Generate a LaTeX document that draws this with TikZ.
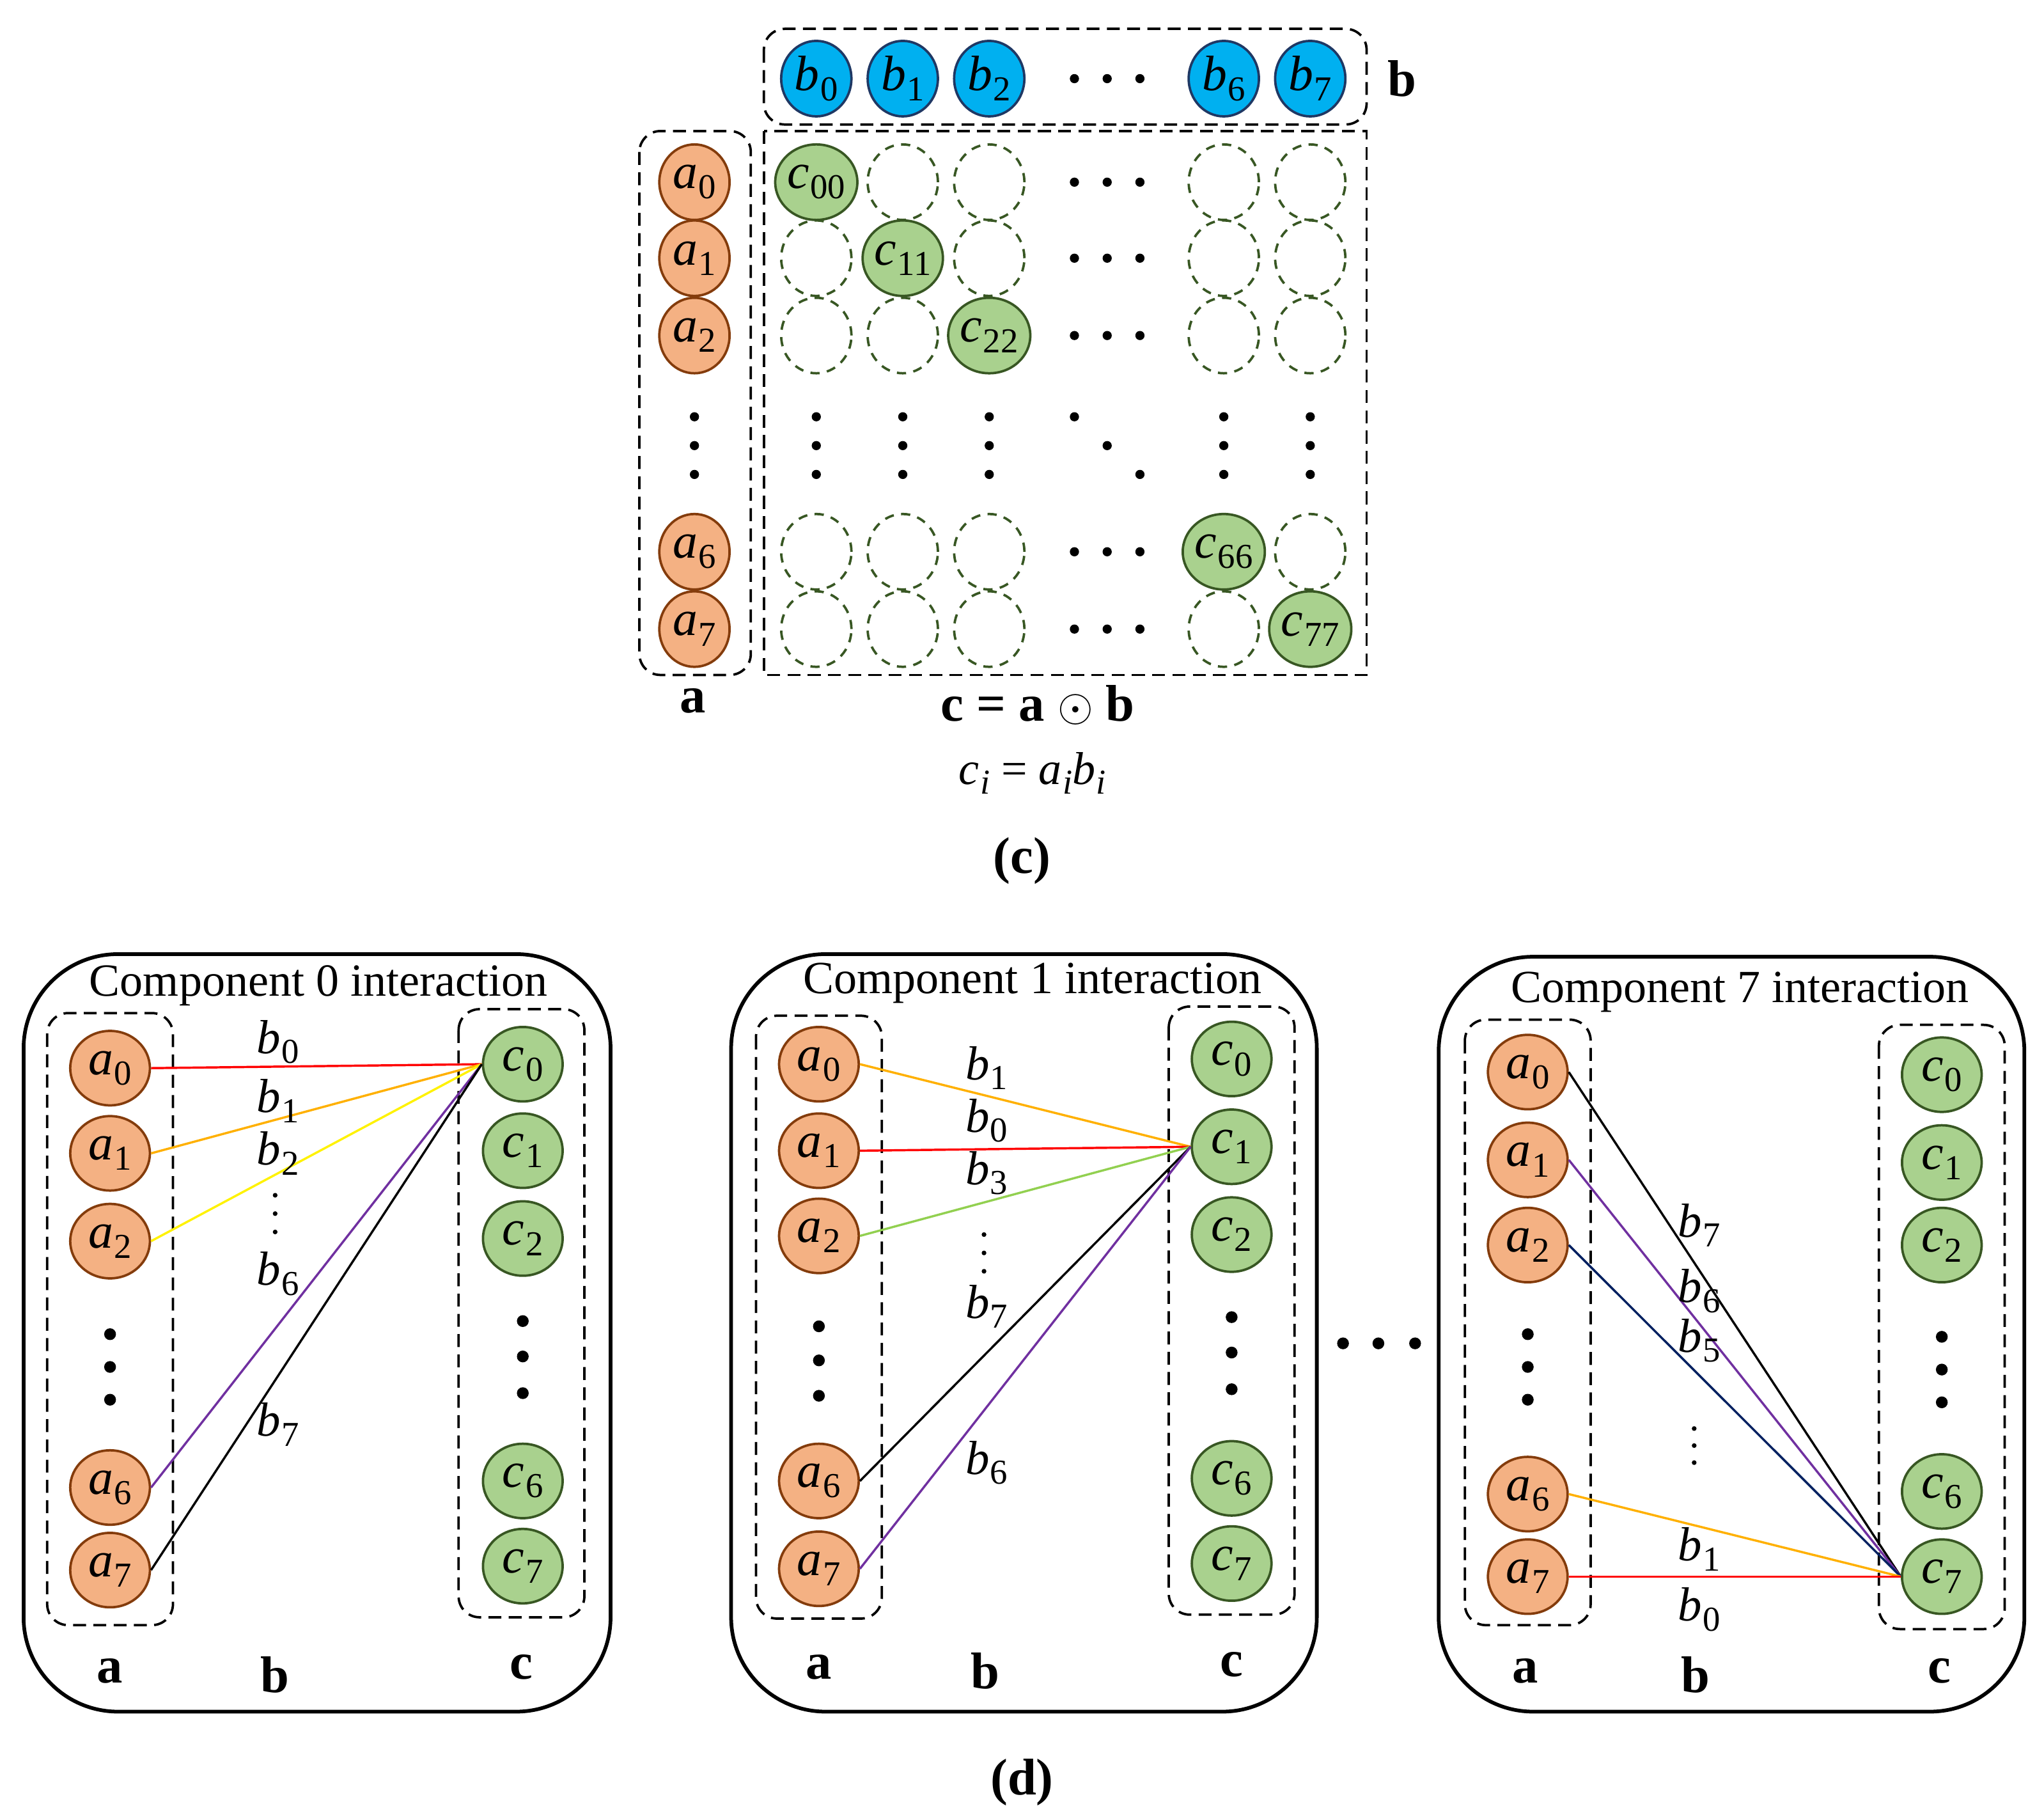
\documentclass[tikz,border=0pt]{standalone}
\usepackage{fontspec}
\setmainfont{Liberation Serif}
\usetikzlibrary{shapes.geometric}
\newcommand\vs[2]{\textit{#1}\kern0.02em\raisebox{-0.45ex}{\fontsize{19}{19}\selectfont #2}}
\definecolor{afill}{HTML}{F4B183}\definecolor{adraw}{HTML}{843C0C}
\definecolor{cfill}{HTML}{A9D18E}\definecolor{cdraw}{HTML}{385723}
\definecolor{bfill}{HTML}{00B0F0}\definecolor{bdraw}{HTML}{1F3864}
\definecolor{lorange}{HTML}{FFB000}\definecolor{lpurple}{HTML}{7030A0}
\definecolor{lnavy}{HTML}{002060}\definecolor{lgreen}{HTML}{92D050}
\begin{document}
\begin{tikzpicture}[x=0.25mm,y=-0.25mm,
  nd/.style={ellipse,inner sep=0pt,line width=1.3pt,font=\fontsize{27}{27}\selectfont},
  top/.style={minimum width=13.4mm,minimum height=14.4mm},
  bot/.style={minimum width=15.2mm,minimum height=14.2mm},
  A/.style={nd,draw=adraw,fill=afill},
  C/.style={nd,draw=cdraw,fill=cfill},
  E/.style={nd,draw=cdraw,dashed,dash pattern=on 5pt off 4pt},
  B/.style={nd,draw=bdraw,fill=bfill},
  box/.style={draw,line width=1.3pt,dash pattern=on 7pt off 4pt},
  panel/.style={draw,line width=2pt,rounded corners=18mm},
  lab/.style={font=\fontsize{28}{28}\selectfont\bfseries},
  el/.style={font=\fontsize{26}{26}\selectfont,inner sep=0pt},
  ttl/.style={font=\fontsize{25}{25}\selectfont},
  dot/.style={fill=black},
  ln/.style={line width=1.2pt}]
\useasboundingbox (0,0) rectangle (1560,1383);
% ---------- (c) ----------
\draw[box,rounded corners=4mm] (583,22) rectangle (1043,95);
\draw[box,rounded corners=4mm] (488,100) rectangle (573,515);
\draw[box] (583,100) rectangle (1043,515);
\foreach \n/\x in {0/623,1/689,2/755,6/934,7/1000}
  \node[B,top] (b\n) at (\x,60) {\vs{b}{\n}};
\foreach \x in {820,845,870} \fill[dot] (\x,60) circle (3.5);
\node[lab] (lb) at (1070,60) {b};
\foreach \n/\y in {0/139,1/197,2/256,6/421,7/480}
  \node[A,top] (ta\n) at (530,\y) {\vs{a}{\n}};
\foreach \y in {318,340,362} \fill[dot] (530,\y) circle (3.5);
\foreach \i/\y in {0/139,1/197,2/256,6/421,7/480}{
  \foreach \j/\x in {0/623,1/689,2/755,6/934,7/1000}{
    \ifnum\i=\j
      \node[C,top] (c\i\j) at (\x,\y) {\vs{c}{\i\j}};
    \else
      \node[E,top] (c\i\j) at (\x,\y) {};
    \fi}
  \foreach \x in {820,845,870} \fill[dot] (\x,\y) circle (3.5);}
\foreach \x in {623,689,755,934,1000}
  \foreach \y in {318,340,362} \fill[dot] (\x,\y) circle (3.5);
\fill[dot] (820,318) circle (3.5) (845,340) circle (3.5) (870,362) circle (3.5);
\node[lab] (la) at (529,535) {a};
\node[lab] (lc) at (792,538) {c = a $\odot$ b};
\node[ttl] (ci) at (788,590) {\vs{c}{\textit{i}} = \vs{a}{\textit{i}}\vs{b}{\textit{i}}};
\node[lab] (capc) at (780,657) {(c)};
% ---------- panel 0 ----------
\draw[panel] (18,728) rectangle (466,1306);
\node[ttl] (t0) at (243,752) {Component 0 interaction};
\draw[box,rounded corners=4mm] (36,773) rectangle (132,1240);
\draw[box,rounded corners=4mm] (350,770) rectangle (446,1234);
\foreach \n/\y in {0/815,1/880,2/947,6/1135,7/1198} \node[A,bot] (p0a\n) at (84,\y) {\vs{a}{\n}};
\foreach \n/\y in {0/812,1/878,2/945,6/1130,7/1195} \node[C,bot] (p0c\n) at (399,\y) {\vs{c}{\n}};
\foreach \y in {1018,1043,1068} \fill[dot] (84,\y) circle (4.5);
\foreach \y in {1008,1035,1063} \fill[dot] (399,\y) circle (4.5);
\draw[ln,red] (p0a0.east) -- (p0c0.west);
\draw[ln,lorange] (p0a1.east) -- (p0c0.west);
\draw[ln,yellow] (p0a2.east) -- (p0c0.west);
\draw[ln,lpurple] (p0a6.east) -- (p0c0.west);
\draw[ln,black] (p0a7.east) -- (p0c0.west);
\node[el] (e00) at (212,795) {\vs{b}{0}};
\node[el] (e01) at (212,840) {\vs{b}{1}};
\node[el] (e02) at (212,880) {\vs{b}{2}};
\foreach \y in {912,926,940} \fill[dot] (210,\y) circle (1.8);
\node[el] (e06) at (212,972) {\vs{b}{6}};
\node[el] (e07) at (212,1087) {\vs{b}{7}};
\node[lab] (p0la) at (84,1275) {a};
\node[lab] (p0lb) at (210,1278) {b};
\node[lab] (p0lc) at (398,1272) {c};
% ---------- panel 1 ----------
\draw[panel] (558,728) rectangle (1005,1306);
\node[ttl] (t1) at (788,750) {Component 1 interaction};
\draw[box,rounded corners=4mm] (577,775) rectangle (673,1235);
\draw[box,rounded corners=4mm] (892,768) rectangle (988,1232);
\foreach \n/\y in {0/812,1/878,2/943,6/1130,7/1197} \node[A,bot] (p1a\n) at (625,\y) {\vs{a}{\n}};
\foreach \n/\y in {0/808,1/875,2/942,6/1128,7/1193} \node[C,bot] (p1c\n) at (940,\y) {\vs{c}{\n}};
\foreach \y in {1012,1038,1065} \fill[dot] (625,\y) circle (4.5);
\foreach \y in {1005,1032,1060} \fill[dot] (940,\y) circle (4.5);
\draw[ln,lorange] (p1a0.east) -- (p1c1.west);
\draw[ln,red] (p1a1.east) -- (p1c1.west);
\draw[ln,lgreen] (p1a2.east) -- (p1c1.west);
\draw[ln,black] (p1a6.east) -- (p1c1.west);
\draw[ln,lpurple] (p1a7.east) -- (p1c1.west);
\node[el] (e11) at (753,815) {\vs{b}{1}};
\node[el] (e10) at (753,855) {\vs{b}{0}};
\node[el] (e13) at (753,895) {\vs{b}{3}};
\foreach \y in {942,956,970} \fill[dot] (751,\y) circle (1.8);
\node[el] (e17) at (753,997) {\vs{b}{7}};
\node[el] (e16) at (753,1116) {\vs{b}{6}};
\node[lab] (p1la) at (625,1272) {a};
\node[lab] (p1lb) at (752,1275) {b};
\node[lab] (p1lc) at (940,1270) {c};
% between
\foreach \x in {1025,1052,1080} \fill[dot] (\x,1025) circle (4.5);
% ---------- panel 7 ----------
\draw[panel] (1098,730) rectangle (1545,1306);
\node[ttl] (t7) at (1328,757) {Component 7 interaction};
\draw[box,rounded corners=4mm] (1118,778) rectangle (1214,1240);
\draw[box,rounded corners=4mm] (1434,782) rectangle (1530,1243);
\foreach \n/\y in {0/818,1/885,2/950,6/1140,7/1203} \node[A,bot] (p7a\n) at (1166,\y) {\vs{a}{\n}};
\foreach \n/\y in {0/820,1/887,2/950,6/1138,7/1203} \node[C,bot] (p7c\n) at (1482,\y) {\vs{c}{\n}};
\foreach \y in {1018,1043,1068} \fill[dot] (1166,\y) circle (4.5);
\foreach \y in {1020,1045,1070} \fill[dot] (1482,\y) circle (4.5);
\draw[ln,black] (p7a0.east) -- (p7c7.west);
\draw[ln,lpurple] (p7a1.east) -- (p7c7.west);
\draw[ln,lnavy] (p7a2.east) -- (p7c7.west);
\draw[ln,lorange] (p7a6.east) -- (p7c7.west);
\draw[ln,red] (p7a7.east) -- (p7c7.west);
\node[el] (e77) at (1297,935) {\vs{b}{7}};
\node[el] (e76) at (1297,985) {\vs{b}{6}};
\node[el] (e75) at (1297,1023) {\vs{b}{5}};
\foreach \y in {1090,1103,1116} \fill[dot] (1293,\y) circle (1.8);
\node[el] (e71) at (1297,1182) {\vs{b}{1}};
\node[el] (e70) at (1297,1228) {\vs{b}{0}};
\node[lab] (p7la) at (1164,1275) {a};
\node[lab] (p7lb) at (1294,1278) {b};
\node[lab] (p7lc) at (1480,1275) {c};
\node[lab] (capd) at (780,1360) {(d)};
\end{tikzpicture}
\end{document}
